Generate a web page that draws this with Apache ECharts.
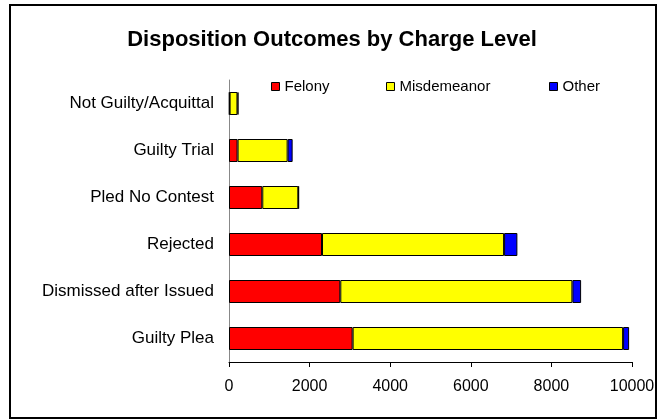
<!DOCTYPE html>
<html>
<head>
<meta charset="utf-8">
<script src="https://cdn.jsdelivr.net/npm/echarts@6/dist/echarts.min.js"></script>
<style>
  html, body { margin: 0; padding: 0; background: #fff; }
  #chart { width: 664px; height: 420px; }
</style>
</head>
<body>
<div id="chart"></div>
<script>
// bottom to top, as in the picture
const categories = ['Guilty Plea', 'Dismissed after Issued', 'Rejected', 'Pled No Contest', 'Guilty Trial', 'Not Guilty/Acquittal']
const felony = [3068, 2762, 2308, 826, 213, 15]
const misdemeanor = [6711, 5759, 4518, 894, 1242, 195]
const other = [149, 216, 330, 15, 124, 25]
const xTicks = [0, 2000, 4000, 6000, 8000, 10000]

const seriesNames = ['Felony', 'Misdemeanor', 'Other']
const legendLeft = [266, 381, 544]

const chart = echarts.init(document.getElementById('chart'))

const barSeries = (name, data, color) => ({
  name,
  type: 'bar',
  stack: 'total',
  data,
  barWidth: 23,
  itemStyle: { color, borderColor: '#000', borderWidth: 1 }
})

chart.setOption({
  animation: false,
  textStyle: { fontFamily: 'Liberation Sans, Arial, sans-serif' },
  title: {
    text: 'Disposition Outcomes by Charge Level',
    left: 'center',
    top: 24,
    textStyle: { fontSize: 22, fontWeight: 'bold', color: '#000' }
  },
  legend: seriesNames.map((n, i) => ({
    left: legendLeft[i],
    top: 74,
    itemWidth: 8,
    itemHeight: 8,
    icon: 'rect',
    itemStyle: { borderColor: '#000', borderWidth: 1 },
    textStyle: { fontSize: 15, color: '#000' },
    data: [n]
  })),
  grid: { left: 229, right: 32, top: 80, bottom: 58 },
  xAxis: {
    type: 'value',
    min: xTicks[0],
    max: xTicks[xTicks.length - 1],
    interval: 2000,
    splitLine: { show: false },
    axisLine: { show: true, lineStyle: { color: '#000', width: 1 } },
    axisTick: { show: true, length: 5, lineStyle: { color: '#000' } },
    axisLabel: { fontSize: 16, color: '#000', margin: 17, formatter: v => String(v) }
  },
  yAxis: {
    type: 'category',
    data: categories,
    axisLine: { lineStyle: { color: '#888', width: 1 } },
    axisTick: { show: false },
    axisLabel: { fontSize: 17, color: '#000', margin: 15 }
  },
  series: [
    barSeries('Felony', felony, '#ff0000'),
    barSeries('Misdemeanor', misdemeanor, '#ffff00'),
    barSeries('Other', other, '#0000ff')
  ],
  graphic: [{
    type: 'rect',
    shape: { x: 10, y: 5, width: 646, height: 413 },
    style: { fill: 'none', stroke: '#000', lineWidth: 2 },
    z: 100
  }]
})
</script>
</body>
</html>
